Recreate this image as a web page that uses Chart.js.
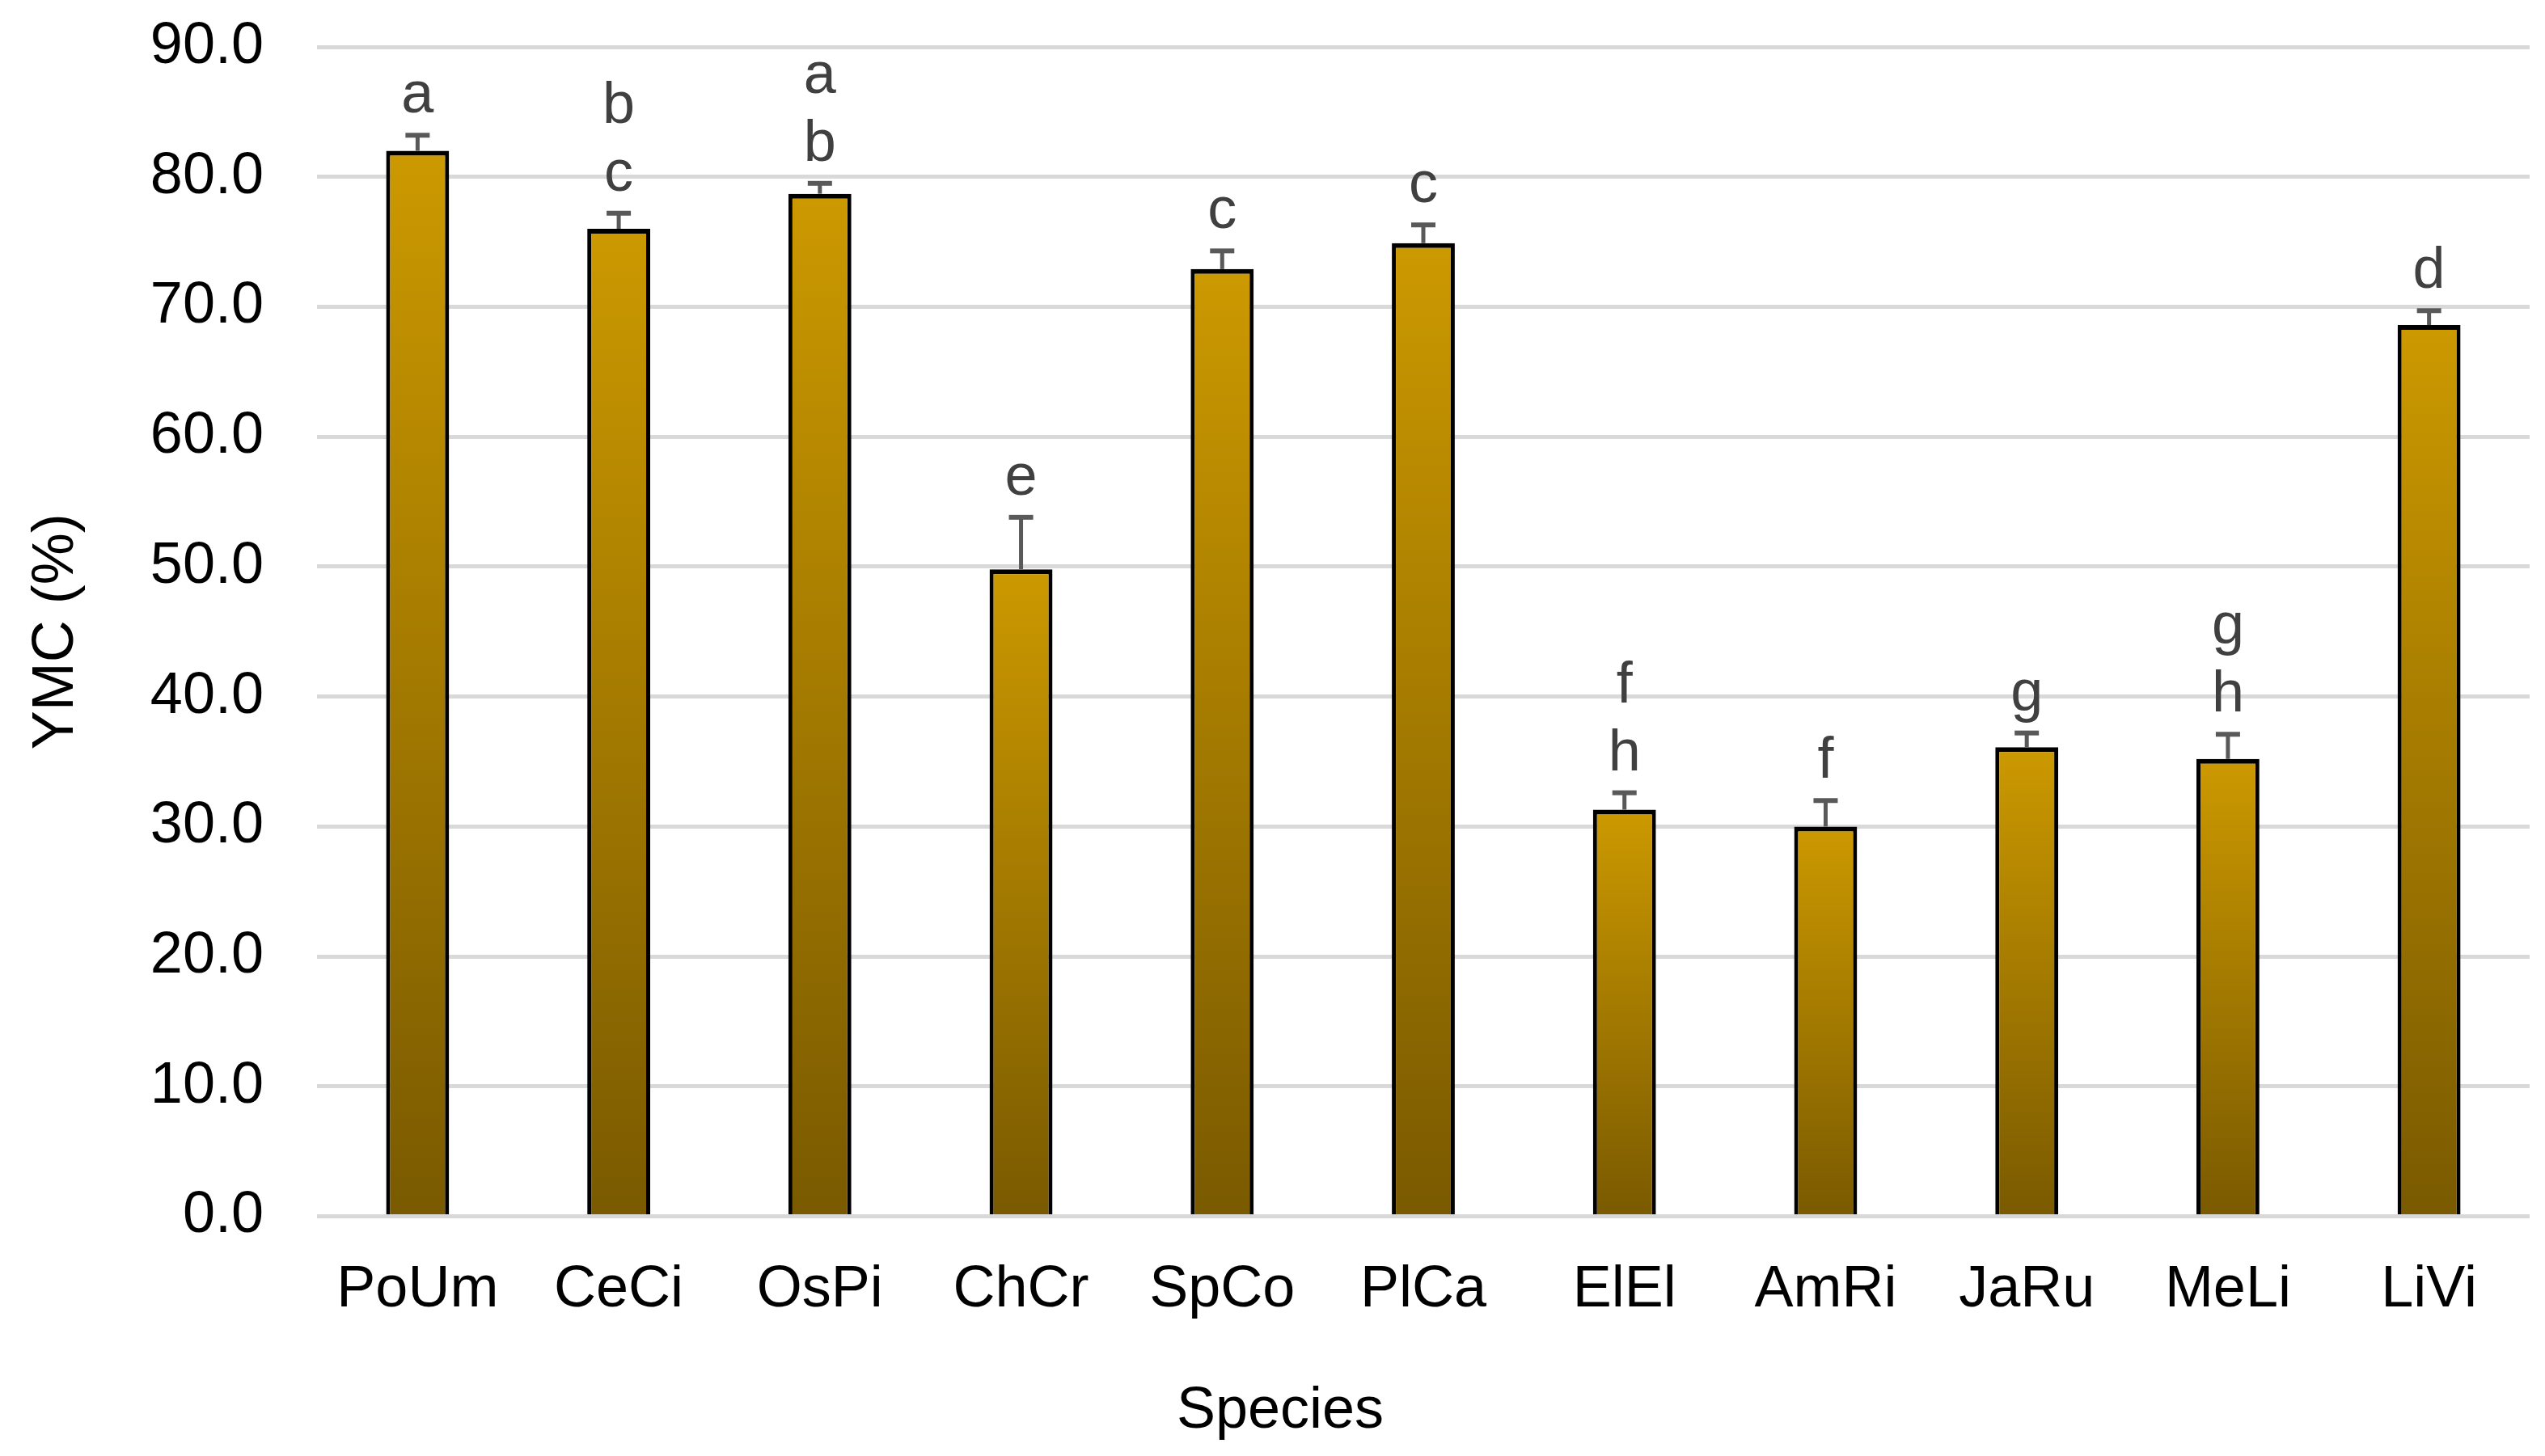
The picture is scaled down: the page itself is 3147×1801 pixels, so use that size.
<!DOCTYPE html>
<html>
<head>
<meta charset="utf-8">
<script src="https://cdn.jsdelivr.net/npm/chart.js@4.4.1/dist/chart.umd.min.js"></script>
<style>
  html, body { margin: 0; padding: 0; background: #ffffff; }
  #wrap { width: 3147px; height: 1801px; position: relative; }
  canvas { display: block; }
</style>
</head>
<body>
<div id="wrap"><canvas id="c" width="3147" height="1801"></canvas></div>
<script>
const species = ['PoUm', 'CeCi', 'OsPi', 'ChCr', 'SpCo', 'PlCa', 'ElEl', 'AmRi', 'JaRu', 'MeLi', 'LiVi'];
const ymc = [82.0, 76.0, 78.7, 49.8, 72.9, 74.9, 31.3, 30.0, 36.1, 35.2, 68.6];
const ymcErr = [1.2, 1.2, 0.8, 4.0, 1.4, 1.4, 1.3, 2.0, 1.1, 1.9, 1.1];
const groups = [['a'], ['b', 'c'], ['a', 'b'], ['e'], ['c'], ['c'], ['f', 'h'], ['f'], ['g'], ['g', 'h'], ['d']];
const yTicks = [0, 10, 20, 30, 40, 50, 60, 70, 80, 90];

const FONT = '"Liberation Sans", Arial, sans-serif';

const barFill = (ctx) => {
  const chart = ctx.chart;
  if (!chart.chartArea || ctx.dataIndex === undefined || !chart.scales.y) return '#B08400';
  const ys = chart.scales.y;
  const top = ys.getPixelForValue(ymc[ctx.dataIndex]);
  const bot = ys.getPixelForValue(0);
  const g = chart.ctx.createLinearGradient(0, top, 0, bot);
  g.addColorStop(0, '#CC9900');
  g.addColorStop(1, '#7A5A00');
  return g;
};

const shiftTitle = {
  id: 'shiftTitle',
  afterLayout(chart) {
    const tb = chart.titleBlock;
    if (tb) { tb.left += 19; tb.right += 19; }
  }
};

const annotate = {
  id: 'annotate',
  afterDatasetsDraw(chart) {
    const ctx = chart.ctx;
    const meta = chart.getDatasetMeta(0);
    const ys = chart.scales.y;
    ctx.save();
    meta.data.forEach((bar, i) => {
      const x = bar.x;
      const yTop = ys.getPixelForValue(ymc[i]);
      const yCap = ys.getPixelForValue(ymc[i] + ymcErr[i]);
      ctx.strokeStyle = '#595959';
      ctx.lineWidth = 5;
      ctx.beginPath();
      ctx.moveTo(x, yTop);
      ctx.lineTo(x, yCap);
      ctx.stroke();
      ctx.lineWidth = 6;
      ctx.beginPath();
      ctx.moveTo(x - 15, yCap);
      ctx.lineTo(x + 15, yCap);
      ctx.stroke();
      ctx.fillStyle = '#404040';
      ctx.font = '72px ' + FONT;
      ctx.textAlign = 'center';
      ctx.textBaseline = 'alphabetic';
      const g = groups[i];
      const base = yCap - 28;
      for (let k = 0; k < g.length; k++) {
        const line = g.length - 1 - k;
        ctx.fillText(g[k], x, base - line * 84);
      }
    });
    ctx.restore();
  }
};

new Chart(document.getElementById('c'), {
  type: 'bar',
  data: {
    labels: species,
    datasets: [{
      data: ymc,
      backgroundColor: barFill,
      borderColor: '#000000',
      borderWidth: { top: 6, left: 5, right: 5, bottom: 0 },
      borderSkipped: false,
      barPercentage: 0.313,
      categoryPercentage: 1.0
    }]
  },
  options: {
    responsive: false,
    animation: false,
    devicePixelRatio: 1,
    layout: { padding: { top: 58, right: 19, left: 0, bottom: 0 } },
    plugins: {
      legend: { display: false },
      tooltip: { enabled: false },
      title: {
        display: true,
        position: 'bottom',
        text: 'Species',
        color: '#000000',
        font: { family: FONT, size: 72, weight: 'normal' },
        padding: { top: 64, bottom: 12 }
      }
    },
    scales: {
      x: {
        afterFit: (s) => { s.height = 134; s.paddingLeft = 0; s.paddingRight = 0; },
        grid: { display: false, drawTicks: false },
        border: { display: false },
        ticks: {
          color: '#000000',
          font: { family: FONT, size: 72 },
          padding: 48,
          maxRotation: 0,
          autoSkip: false
        }
      },
      y: {
        min: 0,
        max: 90,
        afterBuildTicks: (scale) => { scale.ticks = yTicks.map(v => ({ value: v })); },
        afterFit: (s) => { s.width = 392; s.paddingTop = 0; s.paddingBottom = 0; },
        grid: { color: '#D9D9D9', lineWidth: 5, drawTicks: false },
        border: { display: false },
        ticks: {
          color: '#000000',
          font: { family: FONT, size: 72 },
          padding: 66,
          callback: (v) => Number(v).toFixed(1)
        },
        title: {
          display: true,
          text: 'YMC (%)',
          color: '#000000',
          font: { family: FONT, size: 72 },
          padding: { top: 27, bottom: 75 }
        }
      }
    }
  },
  plugins: [shiftTitle, annotate]
});
</script>
</body>
</html>
